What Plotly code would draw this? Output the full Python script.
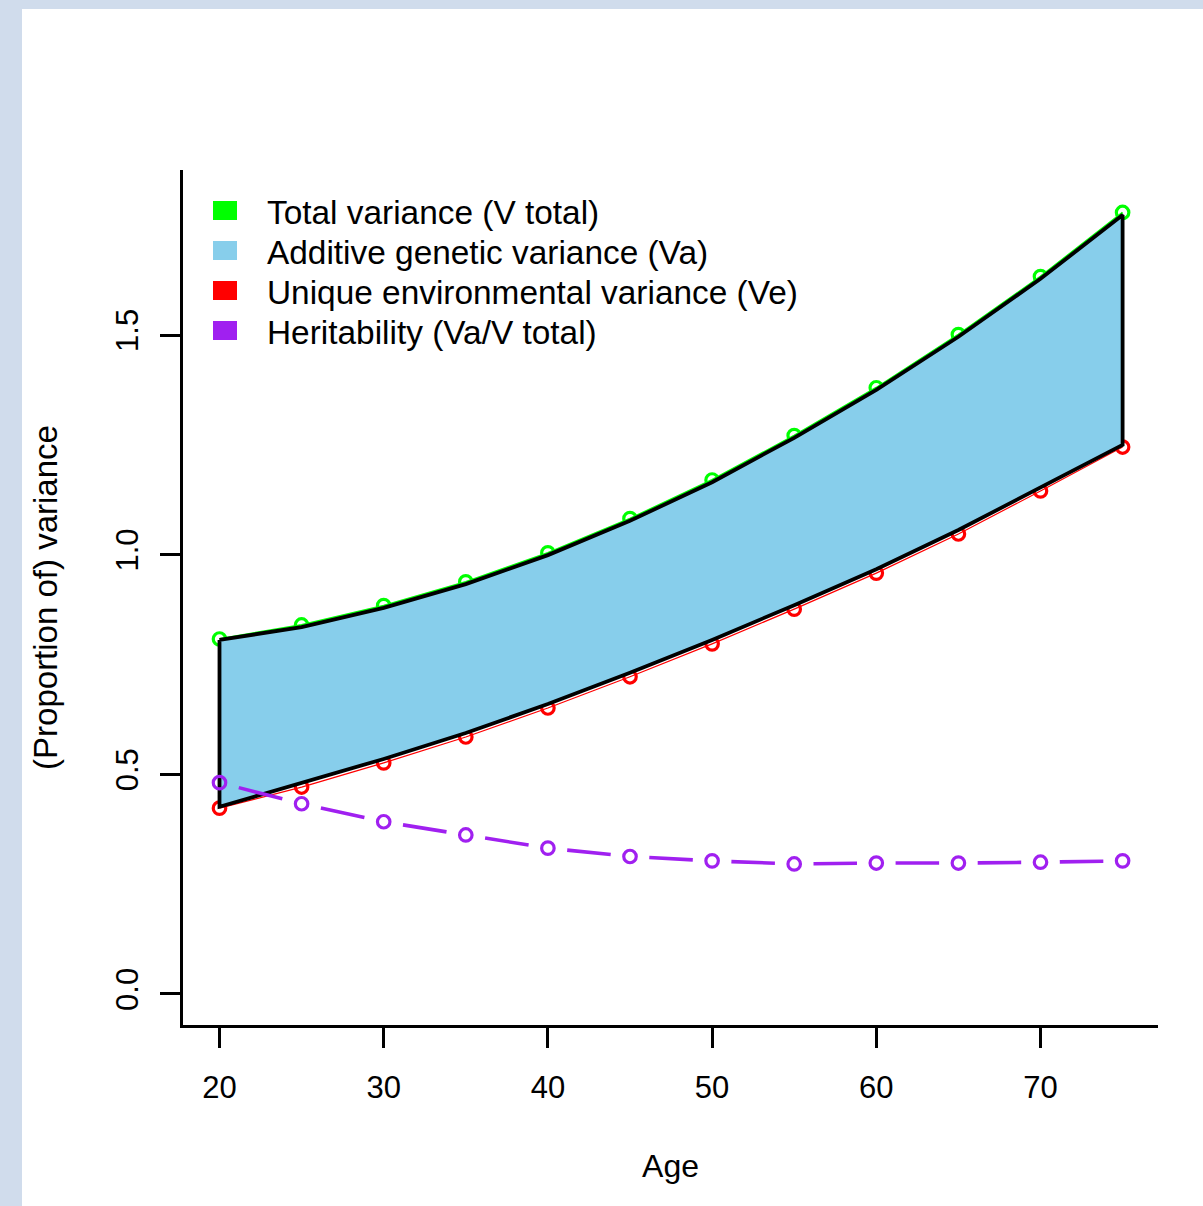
import numpy as np
import plotly.graph_objects as go

# ---------------- data ----------------
age = [20, 25, 30, 35, 40, 45, 50, 55, 60, 65, 70, 75]
v_total_points = [0.808, 0.840, 0.884, 0.938, 1.004, 1.082, 1.170, 1.271, 1.380, 1.501, 1.633, 1.779]
v_total_fit = [0.806, 0.835, 0.879, 0.933, 0.999, 1.077, 1.165, 1.266, 1.375, 1.496, 1.628, 1.773]
ve_points = [0.423, 0.471, 0.526, 0.585, 0.651, 0.722, 0.797, 0.876, 0.958, 1.047, 1.145, 1.245]
ve_fit = [0.426, 0.480, 0.535, 0.594, 0.660, 0.731, 0.806, 0.885, 0.967, 1.056, 1.152, 1.250]
heritability = [0.481, 0.433, 0.392, 0.362, 0.332, 0.313, 0.303, 0.296, 0.298, 0.298, 0.300, 0.303]

x_ticks = [20, 30, 40, 50, 60, 70]
y_ticks = [0.0, 0.5, 1.0, 1.5]
y_tick_text = ["0.0", "0.5", "1.0", "1.5"]

legend_labels = [
    "Total variance (V total)",
    "Additive genetic variance (Va)",
    "Unique environmental variance (Ve)",
    "Heritability (Va/V total)",
]
legend_colors = ["#00FF00", "#87CEEB", "#FF0000", "#A020F0"]

x_title = "Age"
y_title = "(Proportion of) variance"

# ---------------- styling ----------------
W, H = 1203, 1206
ML, MR, MT, MB = 183, 45, 170, 181
PW, PH = W - ML - MR, H - MT - MB
FONT = "Arial, 'Liberation Sans', sans-serif"
GREEN, SKY, RED, PURPLE = legend_colors


def px_x(x):
    return (x - ML) / PW


def px_y(y):
    return (H - MB - y) / PH


fig = go.Figure()

# green & red points joined by thin lines (drawn under the band)
fig.add_trace(go.Scatter(x=age, y=v_total_points, mode="lines+markers", showlegend=False,
                         line=dict(color=GREEN, width=2),
                         marker=dict(symbol="circle-open", size=12.5, color=GREEN,
                                     line=dict(width=3.2, color=GREEN)), hoverinfo="skip"))
fig.add_trace(go.Scatter(x=age, y=ve_points, mode="lines+markers", showlegend=False,
                         line=dict(color=RED, width=1.2),
                         marker=dict(symbol="circle-open", size=12.5, color=RED,
                                     line=dict(width=3.2, color=RED)), hoverinfo="skip"))

# filled band between Ve and V total (Va)
band_x = list(age) + list(age[::-1]) + [age[0]]
band_y = list(v_total_fit) + list(ve_fit[::-1]) + [v_total_fit[0]]
fig.add_trace(go.Scatter(x=band_x, y=band_y, mode="lines", fill="toself", fillcolor=SKY,
                         line=dict(color="black", width=3.8), showlegend=False, hoverinfo="skip"))

# heritability: segments with gaps around points (type = "b")
a = np.array(age, dtype=float)
h = np.array(heritability, dtype=float)
f = 0.235
seg_x, seg_y = [], []
for i in range(len(a) - 1):
    dx, dy = a[i + 1] - a[i], h[i + 1] - h[i]
    seg_x += [a[i] + f * dx, a[i + 1] - f * dx, None]
    seg_y += [h[i] + f * dy, h[i + 1] - f * dy, None]
fig.add_trace(go.Scatter(x=seg_x, y=seg_y, mode="lines", line=dict(color=PURPLE, width=3.6),
                         showlegend=False, hoverinfo="skip", connectgaps=False))
fig.add_trace(go.Scatter(x=age, y=heritability, mode="markers", showlegend=False,
                         marker=dict(symbol="circle-open", size=12.5, color=PURPLE,
                                     line=dict(width=3.2, color=PURPLE)), hoverinfo="skip"))

shapes = []
# page background panel
shapes.append(dict(type="rect", xref="paper", yref="paper", layer="below",
                   x0=px_x(22), x1=px_x(W + 5), y0=px_y(H + 5), y1=px_y(9),
                   fillcolor="white", line=dict(width=0)))

annotations = []
row_y = [211, 251, 291, 331]
for lab, col, yc in zip(legend_labels, legend_colors, row_y):
    shapes.append(dict(type="rect", xref="paper", yref="paper",
                       x0=px_x(213), x1=px_x(237), y0=px_y(yc - 10), y1=px_y(yc + 9),
                       fillcolor=col, line=dict(width=0)))
    annotations.append(dict(text=lab, xref="paper", yref="paper", x=px_x(265), y=px_y(yc + 1),
                            xanchor="left", yanchor="middle", showarrow=False,
                            font=dict(family=FONT, size=33.4, color="black")))

fig.update_layout(
    width=W, height=H,
    margin=dict(l=ML, r=MR, t=MT, b=MB, autoexpand=False),
    paper_bgcolor="#D0DCEC",
    plot_bgcolor="white",
    shapes=shapes,
    annotations=annotations,
    font=dict(family=FONT, color="black"),
    showlegend=False,
)

fig.update_xaxes(range=[17.777, 77.156], showgrid=False, zeroline=False,
                 showline=True, linecolor="black", linewidth=3.4, mirror=False,
                 ticks="outside", ticklen=20, tickwidth=3.4, tickcolor="black",
                 tickvals=x_ticks, ticktext=[str(v) for v in x_ticks],
                 tickfont=dict(family=FONT, size=31, color="black"),
                 ticklabelstandoff=13,
                 title=dict(text=x_title, font=dict(family=FONT, size=32, color="black"), standoff=51))
fig.update_yaxes(range=[-0.0706, 1.8756], showgrid=False, zeroline=False,
                 showline=True, linecolor="black", linewidth=3.4, mirror=False,
                 ticks="outside", ticklen=20, tickwidth=3.4, tickcolor="black",
                 tickvals=y_ticks, ticktext=y_tick_text, tickangle=-90,
                 tickfont=dict(family=FONT, size=31, color="black"),
                 ticklabelstandoff=9,
                 title=dict(text=y_title, font=dict(family=FONT, size=33, color="black"), standoff=43))

fig.write_html("out.html")
